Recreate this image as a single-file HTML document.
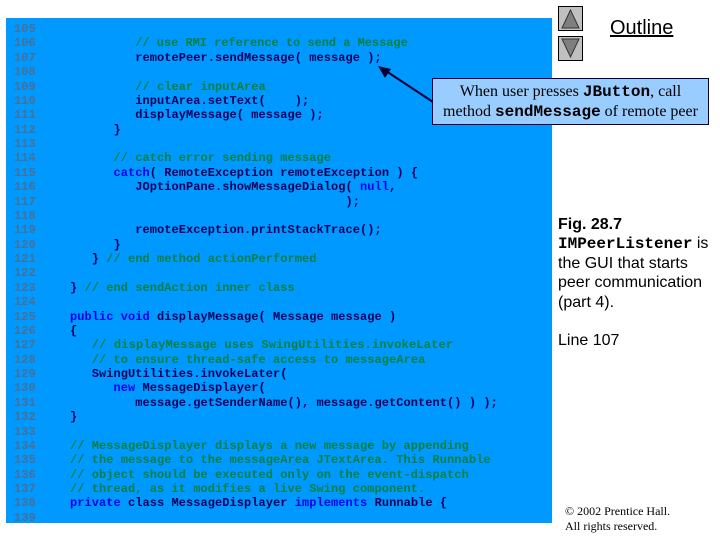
<!DOCTYPE html>
<html>
<head>
<meta charset="utf-8">
<style>
html,body{margin:0;padding:0;width:720px;height:540px;background:#fff;overflow:hidden}
#panel{position:absolute;left:6px;top:18px;width:546px;height:505px;background:#0099ff}
pre{position:absolute;margin:0;font:bold 12px/14.38px "Liberation Mono",monospace;letter-spacing:.05px;color:#00005c;white-space:pre}
#nums{left:14px;top:22px;color:#4a6f94}
#code{left:70px;top:22px}
.c{color:#00803f}
.k{color:#0000f0}
.t{position:absolute;white-space:nowrap;color:#000}
.a{font-family:"Liberation Sans",sans-serif;font-size:16px}
.m{font-family:"Liberation Mono",monospace;font-weight:bold}
#callout{position:absolute;left:432px;top:78px;width:275px;background:#99ccff;border:1px solid #000033;font:16px/20px "Liberation Serif",serif;text-align:center;color:#000;padding-top:3px;height:42px;white-space:nowrap}
svg{position:absolute;left:0;top:0}
</style>
</head>
<body>
<div id="panel"></div>
<pre id="nums">105
106
107
108
109
110
111
112
113
114
115
116
117
118
119
120
121
122
123
124
125
126
127
128
129
130
131
132
133
134
135
136
137
138
139</pre>
<pre id="code">

         <span class="c" style="letter-spacing:-.03px">// use RMI reference to send a Message</span>
         remotePeer.sendMessage( message );

         <span class="c">// clear inputArea</span>
         inputArea.setText(    );
         displayMessage( message );
      }

      <span class="c">// catch error sending message</span>
      <span class="k">catch</span>( RemoteException remoteException ) {
         JOptionPane.showMessageDialog( <span class="k">null</span>,
                                      );

         remoteException.printStackTrace();
      }
   } <span class="c">// end method actionPerformed</span>

} <span class="c">// end sendAction inner class</span>

<span class="k">public void</span> displayMessage( Message message )
{
   <span class="c" style="letter-spacing:.175px">// displayMessage uses SwingUtilities.invokeLater</span>
   <span class="c">// to ensure thread-safe access to messageArea</span>
   SwingUtilities.invokeLater(
      <span class="k">new</span> MessageDisplayer(
         message.getSenderName(), message.getContent() ) );
}

<span class="c">// MessageDisplayer displays a new message by appending</span>
<span class="c">// the message to the messageArea JTextArea. This Runnable</span>
<span class="c">// object should be executed only on the event-dispatch</span>
<span class="c">// thread, as it modifies a live Swing component.</span>
<span class="k">private</span> class MessageDisplayer <span class="k">implements</span> Runnable {</pre>

<svg width="720" height="540">
  <rect x="558.5" y="6.5" width="24" height="24" fill="#c0c0c0" stroke="#000"/>
  <polygon points="570.5,10 562,28 579,28" fill="#7f7f7f" stroke="#333"/>
  <rect x="558.5" y="36.5" width="24" height="24" fill="#c0c0c0" stroke="#000"/>
  <polygon points="562,39 579,39 570.5,57" fill="#7f7f7f" stroke="#333"/>
  <line x1="433" y1="102" x2="386" y2="71" stroke="#000033" stroke-width="2"/>
  <polygon points="378,66 391,69 385,78" fill="#000033"/>
</svg>

<div id="callout">When user presses <span class="m">JButton</span>, call<br>method <span class="m">sendMessage</span> of remote peer</div>

<div class="t" style="left:610px;top:17px;font:20px/23px 'Liberation Sans',sans-serif;text-decoration:underline">Outline</div>

<div class="t a" style="left:558px;top:215px;line-height:19px;font-weight:bold">Fig. 28.7</div>
<div class="t a" style="left:558px;top:234px;line-height:19px"><span class="m">IMPeerListener</span> is</div>
<div class="t a" style="left:558px;top:254px;line-height:19px">the GUI that starts</div>
<div class="t a" style="left:558px;top:273px;line-height:19px">peer communication</div>
<div class="t a" style="left:558px;top:293px;line-height:19px">(part 4).</div>
<div class="t a" style="left:558px;top:331px;line-height:19px">Line 107</div>

<div class="t" style="left:565px;top:504px;font:12px/15px 'Liberation Serif',serif">© 2002 Prentice Hall.</div>
<div class="t" style="left:565px;top:519px;font:12px/15px 'Liberation Serif',serif">All rights reserved.</div>
</body>
</html>
